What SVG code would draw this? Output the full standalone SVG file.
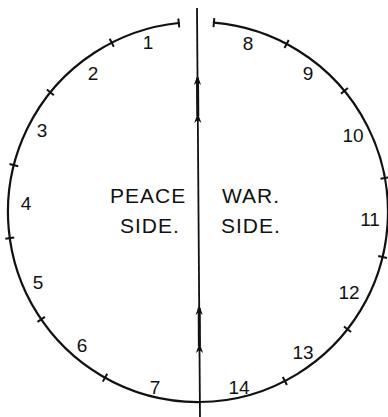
<svg xmlns="http://www.w3.org/2000/svg" width="388" height="417" viewBox="0 0 388 417">
<style>
.ln{fill:none;stroke:#111;stroke-width:2.2;stroke-linecap:round}
.tk{stroke:#111;stroke-width:2}
.num{font-family:"Liberation Sans",Arial,sans-serif;font-size:19px;fill:#111;text-anchor:middle}
.lbl{font-family:"Liberation Sans",Arial,sans-serif;font-size:21px;fill:#111;letter-spacing:1px}
</style>
<defs>
<path id="arr" d="M0,0 L-3.6,10 L0,7 L3.6,10 Z" fill="#111"/>
<line id="tick" x1="198" y1="17.5" x2="198" y2="26.5" class="tk"/>
</defs>
<rect width="388" height="417" fill="#fff"/>
<g id="dial">
<path class="ln" d="M178.8,23 A190,190 0 1 0 213.9,22.7"/>
<use href="#tick" transform="rotate(-5.8 198 212)"/>
<use href="#tick" transform="rotate(4.8 198 212)"/>
<use href="#tick" transform="rotate(-27 198 212)"/>
<use href="#tick" transform="rotate(-51 198 212)"/>
<use href="#tick" transform="rotate(-75.7 198 212)"/>
<use href="#tick" transform="rotate(-97.9 198 212)"/>
<use href="#tick" transform="rotate(-124.4 198 212)"/>
<use href="#tick" transform="rotate(-150.7 198 212)"/>
<use href="#tick" transform="rotate(27.8 198 212)"/>
<use href="#tick" transform="rotate(50.4 198 212)"/>
<use href="#tick" transform="rotate(79.7 198 212)"/>
<use href="#tick" transform="rotate(103.7 198 212)"/>
<use href="#tick" transform="rotate(128.1 198 212)"/>
<use href="#tick" transform="rotate(152.8 198 212)"/>
</g>
<g id="numbers">
<text class="num" x="148" y="49">1</text>
<text class="num" x="93" y="80">2</text>
<text class="num" x="42" y="137">3</text>
<text class="num" x="26" y="210">4</text>
<text class="num" x="38" y="289">5</text>
<text class="num" x="82" y="352">6</text>
<text class="num" x="155" y="394">7</text>
<text class="num" x="248" y="50">8</text>
<text class="num" x="308" y="80">9</text>
<text class="num" x="353" y="142">10</text>
<text class="num" x="370" y="226">11</text>
<text class="num" x="349" y="299">12</text>
<text class="num" x="303" y="359">13</text>
<text class="num" x="239" y="394">14</text>
</g>
<g id="peace-side">
<text class="lbl" x="110" y="203">PEACE</text>
<text class="lbl" x="120" y="233">SIDE.</text>
</g>
<g id="war-side">
<text class="lbl" x="222" y="203">WAR.</text>
<text class="lbl" x="221" y="233">SIDE.</text>
</g>
<g id="connectors">
<line x1="197" y1="8" x2="200" y2="417" stroke="#111" stroke-width="1.8"/>
<line x1="197.5" y1="78" x2="197.8" y2="116" stroke="#111" stroke-width="3"/>
<line x1="199.2" y1="308" x2="199.4" y2="346" stroke="#111" stroke-width="3"/>
<use href="#arr" transform="translate(197.5 75)"/>
<use href="#arr" transform="translate(197.8 113)"/>
<use href="#arr" transform="translate(199.2 305)"/>
<use href="#arr" transform="translate(199.5 343)"/>
</g>
</svg>
